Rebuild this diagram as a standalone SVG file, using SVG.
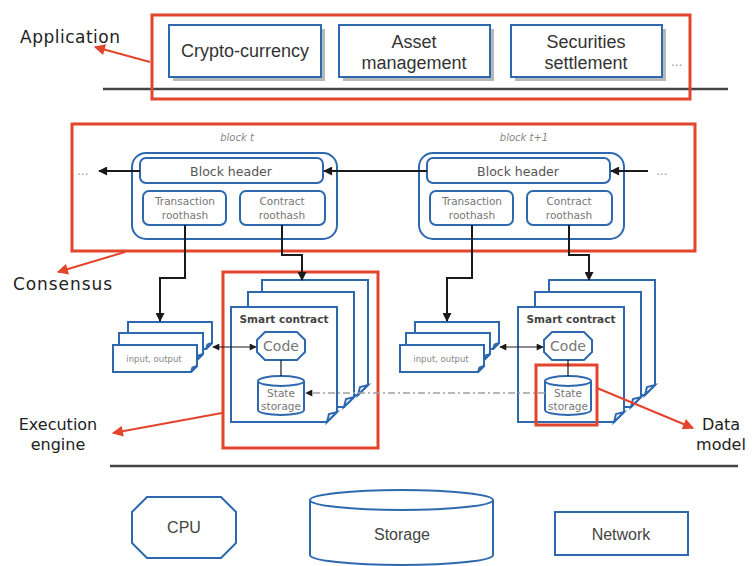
<svg xmlns="http://www.w3.org/2000/svg" width="752" height="566" viewBox="0 0 752 566">
<style>
.bl{fill:#fff;stroke:#2e69b0;stroke-width:2}
.red{fill:none;stroke:#e2452b;stroke-width:3}
.redl{fill:none;stroke:#e2452b;stroke-width:2}
.sh{fill:#9a9a9a;opacity:0.7}
.conn{fill:none;stroke:#1a1a1a;stroke-width:2}
.thin{fill:none;stroke:#1a1a1a;stroke-width:1.2}
.dash{fill:none;stroke:#a0a0a0;stroke-width:1.5;stroke-dasharray:7 3 2 3}
.lab{font-family:"DejaVu Sans",sans-serif;font-size:17px;fill:#222}
.lab2{font-family:"DejaVu Sans",sans-serif;font-size:16px;fill:#222;text-anchor:middle}
.app{font-family:"Liberation Sans",sans-serif;font-size:18px;fill:#333;text-anchor:middle}
.hw{font-family:"Liberation Sans",sans-serif;font-size:16px;fill:#444;text-anchor:middle}
.hdr{font-family:"DejaVu Sans",sans-serif;font-size:12.5px;fill:#555;text-anchor:middle}
.sm{font-family:"DejaVu Sans",sans-serif;font-size:10.5px;fill:#777;text-anchor:middle}
.blk{font-family:"DejaVu Sans",sans-serif;font-size:10px;font-style:italic;fill:#888;text-anchor:middle}
.sc{font-family:"DejaVu Sans",sans-serif;font-size:10.5px;font-weight:bold;fill:#444;text-anchor:middle}
.code{font-family:"DejaVu Sans",sans-serif;font-size:14px;fill:#777;text-anchor:middle}
.io{font-family:"DejaVu Sans",sans-serif;font-size:8.5px;fill:#888;text-anchor:middle}
.dots{font-family:"DejaVu Sans",sans-serif;font-size:12px;fill:#999}
</style>
<defs>
<marker id="ah" viewBox="0 0 10 10" refX="9" refY="5" markerWidth="10" markerHeight="9" markerUnits="userSpaceOnUse" orient="auto"><path d="M0 0 L10 5 L0 10 Z" fill="#1a1a1a"/></marker>
<marker id="ahs" viewBox="0 0 10 10" refX="9" refY="5" markerWidth="8" markerHeight="7" markerUnits="userSpaceOnUse" orient="auto-start-reverse"><path d="M0 0 L10 5 L0 10 Z" fill="#1a1a1a"/></marker>
<marker id="ahr" viewBox="0 0 10 10" refX="9" refY="5" markerWidth="14" markerHeight="11" markerUnits="userSpaceOnUse" orient="auto"><path d="M0 0 L10 5 L0 10 Z" fill="#e2452b"/></marker>
<path id="scpage" d="M0 0 H106 V105 L96 115 H0 Z"/>
<path id="scfold" d="M106 105 L96 115 L98 107 Z"/>
<path id="iopage" d="M0 0 H84 V21 L78 27 H0 Z"/>
<path id="iofold" d="M84 21 L78 27 L79.5 22.5 Z"/>
</defs>

<!-- separator lines -->
<line x1="103" y1="89" x2="728" y2="89" stroke="#444" stroke-width="2.5"/>
<line x1="110" y1="466" x2="738" y2="466" stroke="#444" stroke-width="2.5"/>

<!-- Application layer -->
<g id="app-crypto">
<rect class="sh" x="173" y="29" width="152" height="52"/>
<rect class="bl" x="169" y="25" width="152" height="52"/>
<text class="app" x="245" y="57">Crypto-currency</text>
</g>
<g id="app-asset">
<rect class="sh" x="343" y="29" width="151" height="52"/>
<rect class="bl" x="339" y="25" width="151" height="52"/>
<text class="app" x="414" y="48">Asset</text>
<text class="app" x="414" y="69">management</text>
</g>
<g id="app-securities">
<rect class="sh" x="515" y="29" width="151" height="52"/>
<rect class="bl" x="511" y="25" width="151" height="52"/>
<text class="app" x="586" y="48">Securities</text>
<text class="app" x="586" y="69">settlement</text>
</g>
<text class="dots" x="671" y="66">...</text>
<g id="application-frame"><rect class="red" x="152" y="15" width="538" height="84"/></g>
<g id="label-application"><text class="lab" x="20" y="43" textLength="100">Application</text></g>

<!-- Consensus layer -->
<g id="consensus-frame"><rect class="red" x="72" y="124" width="623" height="127"/></g>
<g id="label-consensus"><text class="lab" x="13" y="290" textLength="99">Consensus</text></g>

<g id="block-t">
<text class="blk" x="237" y="141">block t</text>
<rect class="bl" x="132" y="153" width="205" height="86" rx="14"/>
<rect class="bl" x="140" y="158" width="183" height="25" rx="6"/>
<text class="hdr" x="231" y="176">Block header</text>
<rect class="bl" x="143" y="191" width="83" height="34" rx="6"/>
<text class="sm" x="185" y="205">Transaction</text>
<text class="sm" x="185" y="219">roothash</text>
<rect class="bl" x="240" y="191" width="85" height="34" rx="6"/>
<text class="sm" x="282" y="205">Contract</text>
<text class="sm" x="282" y="219">roothash</text>
</g>

<g id="block-t1">
<text class="blk" x="524" y="141">block t+1</text>
<rect class="bl" x="419" y="153" width="205" height="86" rx="14"/>
<rect class="bl" x="427" y="158" width="183" height="25" rx="6"/>
<text class="hdr" x="518" y="176">Block header</text>
<rect class="bl" x="430" y="191" width="83" height="34" rx="6"/>
<text class="sm" x="472" y="205">Transaction</text>
<text class="sm" x="472" y="219">roothash</text>
<rect class="bl" x="527" y="191" width="85" height="34" rx="6"/>
<text class="sm" x="569" y="205">Contract</text>
<text class="sm" x="569" y="219">roothash</text>
</g>
<text class="dots" x="77" y="175">...</text>
<text class="dots" x="656" y="175">...</text>

<!-- Execution layer, left -->
<g id="io-t">
<use href="#iopage" class="bl" x="128" y="322"/><use href="#iofold" class="bl" x="128" y="322"/>
<use href="#iopage" class="bl" x="119" y="333"/><use href="#iofold" class="bl" x="119" y="333"/>
<use href="#iopage" class="bl" x="113" y="345"/><use href="#iofold" class="bl" x="113" y="345"/>
<text class="io" x="154" y="362">input, output</text>
</g>
<g id="contract-t">
<use href="#scpage" class="bl" x="262" y="280"/><use href="#scfold" class="bl" x="262" y="280"/>
<use href="#scpage" class="bl" x="248" y="292"/><use href="#scfold" class="bl" x="248" y="292"/>
<use href="#scpage" class="bl" x="231" y="307"/><use href="#scfold" class="bl" x="231" y="307"/>
<text class="sc" x="284" y="323">Smart contract</text>
</g>
<g id="code-t">
<polygon class="bl" points="265,332 297,332 305,340 305,352 297,360 265,360 257,352 257,340"/>
<text class="code" x="281" y="351">Code</text>
</g>
<g id="storage-t">
<path class="bl" d="M258 381 A23 5 0 0 1 304 381 V410 A23 5 0 0 1 258 410 Z"/>
<path class="bl" fill="none" d="M258 381 A23 5 0 0 0 304 381"/>
<text class="sm" x="281" y="397">State</text>
<text class="sm" x="281" y="410">storage</text>
</g>
<g id="execution-frame"><rect class="red" x="223" y="272" width="155" height="176"/></g>
<g id="label-execution"><text class="lab2" x="58" y="430">Execution</text><text class="lab2" x="58" y="450">engine</text></g>

<!-- Execution layer, right -->
<g id="io-t1">
<use href="#iopage" class="bl" x="415" y="322"/><use href="#iofold" class="bl" x="415" y="322"/>
<use href="#iopage" class="bl" x="406" y="333"/><use href="#iofold" class="bl" x="406" y="333"/>
<use href="#iopage" class="bl" x="400" y="345"/><use href="#iofold" class="bl" x="400" y="345"/>
<text class="io" x="441" y="362">input, output</text>
</g>
<g id="contract-t1">
<use href="#scpage" class="bl" x="549" y="280"/><use href="#scfold" class="bl" x="549" y="280"/>
<use href="#scpage" class="bl" x="535" y="292"/><use href="#scfold" class="bl" x="535" y="292"/>
<use href="#scpage" class="bl" x="518" y="307"/><use href="#scfold" class="bl" x="518" y="307"/>
<text class="sc" x="571" y="323">Smart contract</text>
</g>
<g id="code-t1">
<polygon class="bl" points="552,332 584,332 592,340 592,352 584,360 552,360 544,352 544,340"/>
<text class="code" x="568" y="351">Code</text>
</g>
<g id="storage-t1">
<path class="bl" d="M545 381 A23 5 0 0 1 591 381 V410 A23 5 0 0 1 545 410 Z"/>
<path class="bl" fill="none" d="M545 381 A23 5 0 0 0 591 381"/>
<text class="sm" x="568" y="397">State</text>
<text class="sm" x="568" y="410">storage</text>
</g>
<g id="datamodel-frame"><rect class="red" x="536" y="365" width="61" height="60"/></g>
<g id="label-datamodel"><text class="lab2" x="721" y="430">Data</text><text class="lab2" x="721" y="450">model</text></g>

<!-- Hardware -->
<g id="cpu">
<polygon class="bl" points="147,497 221,497 236,512 236,543 221,558 147,558 132,543 132,512"/>
<text class="hw" x="184" y="533">CPU</text>
</g>
<g id="storage">
<path class="bl" d="M310 500 A91.5 10 0 0 1 493 500 V555 A91.5 10 0 0 1 310 555 Z"/>
<path class="bl" fill="none" d="M310 500 A91.5 10 0 0 0 493 500"/>
<text class="hw" x="402" y="540">Storage</text>
</g>
<g id="network">
<rect class="bl" x="555" y="512" width="133" height="43"/>
<text class="hw" x="621" y="540">Network</text>
</g>

<!-- Connectors -->
<g id="connectors">
<path class="conn" d="M427 171 H324" marker-end="url(#ah)"/>
<path class="conn" d="M140 171 H99" marker-end="url(#ah)"/>
<path class="conn" d="M648 171 H611" marker-end="url(#ah)"/>
<path class="conn" d="M185 225 V278 H160 V321" marker-end="url(#ah)"/>
<path class="conn" d="M282 225 V255 H302 V280" marker-end="url(#ah)"/>
<path class="conn" d="M472 225 V278 H447 V321" marker-end="url(#ah)"/>
<path class="conn" d="M569 225 V255 H589 V280" marker-end="url(#ah)"/>
<path class="thin" d="M213 347 H256" marker-start="url(#ahs)" marker-end="url(#ahs)"/>
<path class="thin" d="M500 347 H543" marker-start="url(#ahs)" marker-end="url(#ahs)"/>
<path class="thin" d="M281 360 V376"/>
<path class="thin" d="M568 360 V376"/>
<path class="dash" d="M545 393 H306" marker-end="url(#ahs)"/>
<path class="redl" d="M150 62 L95 47" marker-end="url(#ahr)"/>
<path class="redl" d="M125 252 L58 272" marker-end="url(#ahr)"/>
<path class="redl" d="M222 413 L113 433" marker-end="url(#ahr)"/>
<path class="redl" d="M597 388 L693 428" marker-end="url(#ahr)"/>
</g>
</svg>
